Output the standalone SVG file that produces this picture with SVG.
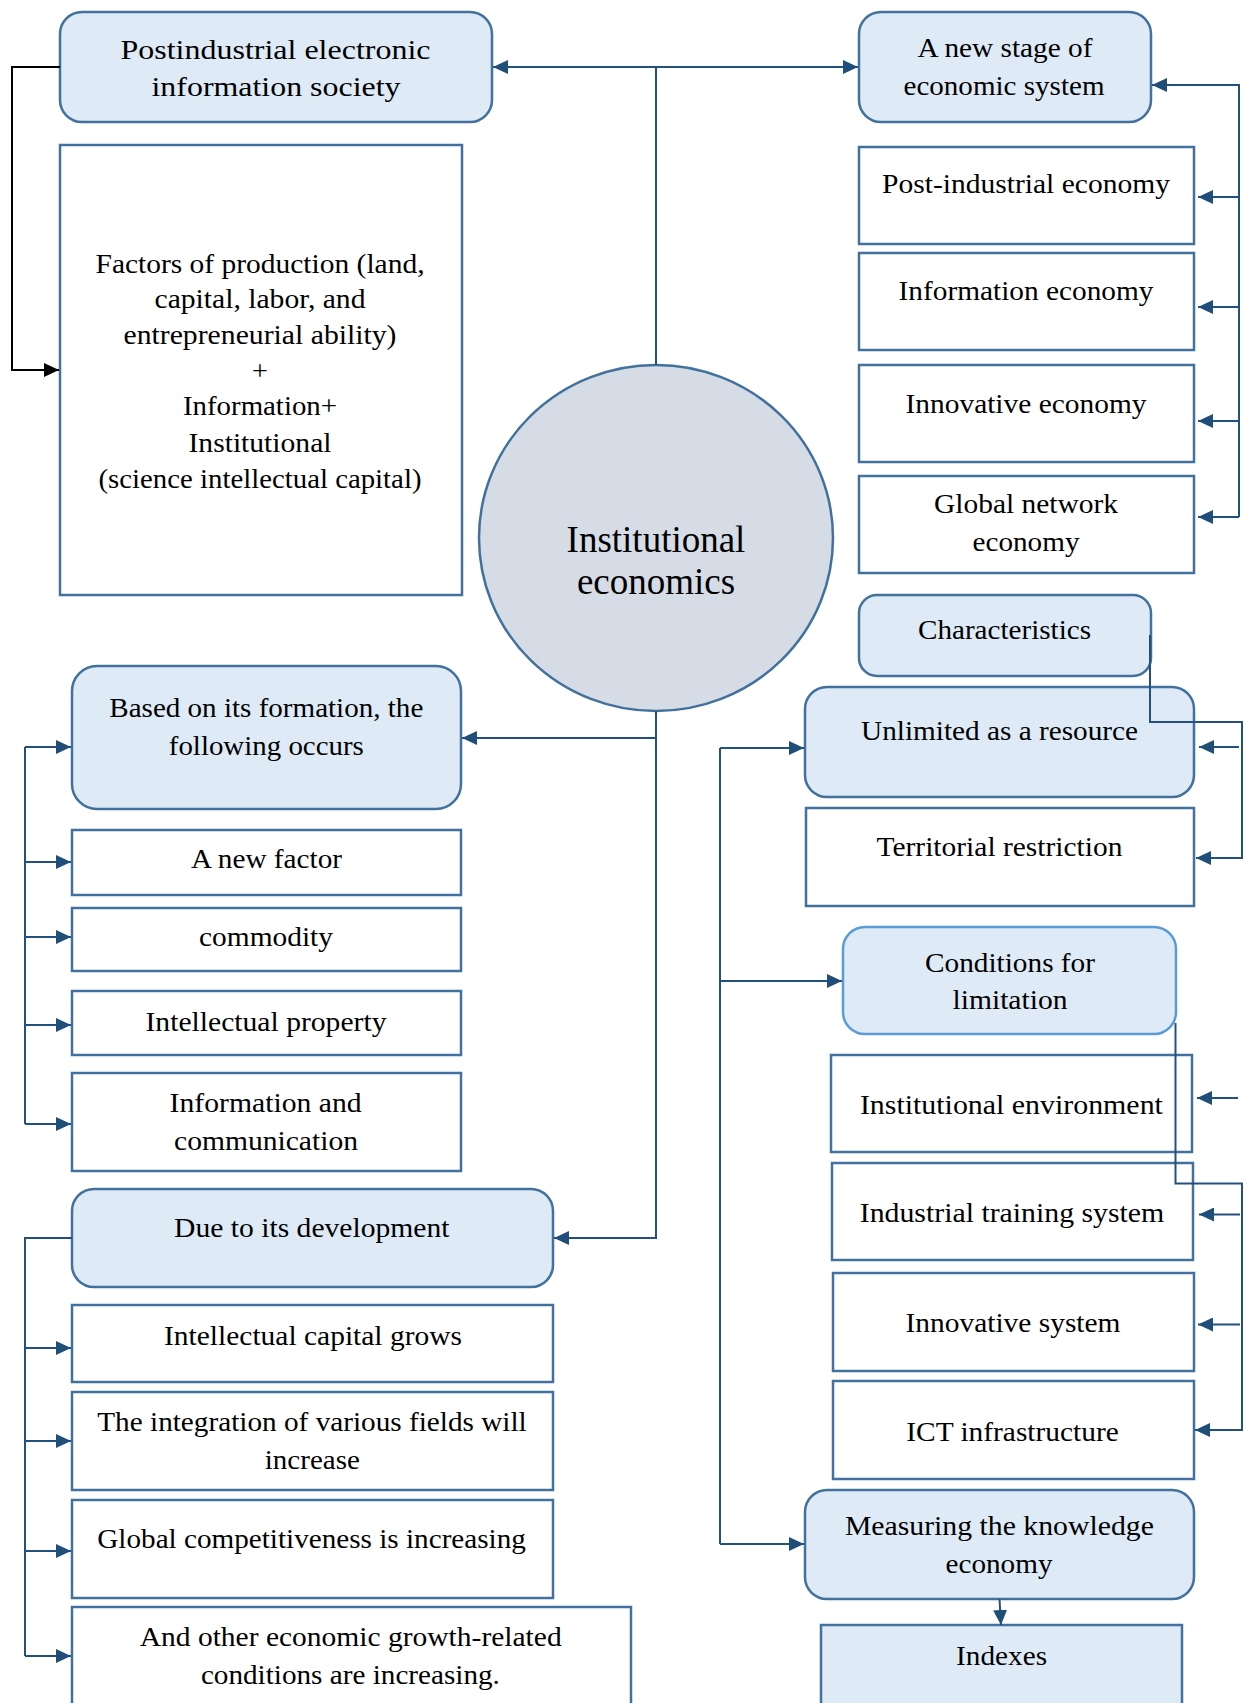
<svg xmlns="http://www.w3.org/2000/svg" width="1248" height="1703" viewBox="0 0 1248 1703">
<style>
.bx{fill:#ffffff;stroke:#41719c;stroke-width:2.5}
.rb{fill:#deeaf6;stroke:#41719c;stroke-width:2.5}
.cl{fill:#deeaf6;stroke:#5b9bd5;stroke-width:2.5}
.ci{fill:#d6dce5;stroke:#41719c;stroke-width:2.5}
text{font-family:"Liberation Serif","Times New Roman",serif;font-size:28px;fill:#000;text-anchor:middle}
.big{font-size:37px}
.cn{fill:none;stroke:#23517f;stroke-width:2}
.bk{fill:none;stroke:#000;stroke-width:2}
</style>
<defs>
<marker id="ar" markerUnits="userSpaceOnUse" markerWidth="15" markerHeight="14" refX="15" refY="7" orient="auto">
<path d="M0,0 L15,7 L0,14 z" fill="#1f4e79"/>
</marker>
<marker id="ak" markerUnits="userSpaceOnUse" markerWidth="15" markerHeight="14" refX="15" refY="7" orient="auto">
<path d="M0,0 L15,7 L0,14 z" fill="#000"/>
</marker>
</defs>

<g id="n-postindustrial"><rect class="rb" x="60" y="12" width="432" height="110" rx="22"/>
<text x="275.5" y="59" textLength="310" lengthAdjust="spacingAndGlyphs">Postindustrial electronic</text>
<text x="276" y="96" textLength="249" lengthAdjust="spacingAndGlyphs">information society</text></g>

<g id="n-factors"><rect class="bx" x="60" y="145" width="402" height="450"/>
<text x="260" y="272.5" textLength="329" lengthAdjust="spacingAndGlyphs">Factors of production (land,</text>
<text x="260" y="308" textLength="211" lengthAdjust="spacingAndGlyphs">capital, labor, and</text>
<text x="260" y="343.7" textLength="273" lengthAdjust="spacingAndGlyphs">entrepreneurial ability)</text>
<text x="260" y="380">+</text>
<text x="260" y="415" textLength="154" lengthAdjust="spacingAndGlyphs">Information+</text>
<text x="260" y="451.6" textLength="143" lengthAdjust="spacingAndGlyphs">Institutional</text>
<text x="260" y="488" textLength="323" lengthAdjust="spacingAndGlyphs">(science intellectual capital)</text></g>

<g id="n-newstage"><rect class="rb" x="859" y="12" width="292" height="110" rx="22"/>
<text x="1005" y="56.6" textLength="175" lengthAdjust="spacingAndGlyphs">A new stage of</text>
<text x="1004" y="95" textLength="201" lengthAdjust="spacingAndGlyphs">economic system</text></g>

<g id="n-postind-economy"><rect class="bx" x="859" y="147" width="335" height="97"/>
<text x="1026" y="193" textLength="288" lengthAdjust="spacingAndGlyphs">Post-industrial economy</text></g>

<g id="n-info-economy"><rect class="bx" x="859" y="253" width="335" height="97"/>
<text x="1026" y="300" textLength="255" lengthAdjust="spacingAndGlyphs">Information economy</text></g>

<g id="n-innov-economy"><rect class="bx" x="859" y="365" width="335" height="97"/>
<text x="1026" y="412.5" textLength="241" lengthAdjust="spacingAndGlyphs">Innovative economy</text></g>

<g id="n-global-economy"><rect class="bx" x="859" y="476" width="335" height="97"/>
<text x="1026" y="513" textLength="184" lengthAdjust="spacingAndGlyphs">Global network</text>
<text x="1026" y="551" textLength="107" lengthAdjust="spacingAndGlyphs">economy</text></g>

<g id="n-institutional"><ellipse class="ci" cx="656" cy="538" rx="177" ry="173"/>
<text class="big" x="656" y="552">Institutional</text>
<text class="big" x="656" y="594">economics</text></g>

<g id="n-characteristics"><rect class="rb" x="859" y="595" width="292" height="81" rx="18"/>
<text x="1004.5" y="638.5" textLength="173" lengthAdjust="spacingAndGlyphs">Characteristics</text></g>

<g id="n-unlimited"><rect class="rb" x="805" y="687" width="389" height="110" rx="22"/>
<text x="999.5" y="740" textLength="277" lengthAdjust="spacingAndGlyphs">Unlimited as a resource</text></g>

<g id="n-territorial"><rect class="bx" x="806" y="808" width="388" height="98"/>
<text x="999.5" y="855.6" textLength="246" lengthAdjust="spacingAndGlyphs">Territorial restriction</text></g>

<g id="n-conditions"><rect class="cl" x="843" y="927" width="333" height="107" rx="22"/>
<text x="1010" y="971.5" textLength="170" lengthAdjust="spacingAndGlyphs">Conditions for</text>
<text x="1010" y="1009" textLength="115" lengthAdjust="spacingAndGlyphs">limitation</text></g>

<g id="n-inst-env"><rect class="bx" x="831" y="1055" width="361" height="97"/>
<text x="1011.4" y="1113.8" textLength="303" lengthAdjust="spacingAndGlyphs">Institutional environment</text></g>

<g id="n-training"><rect class="bx" x="832" y="1163" width="361" height="97"/>
<text x="1012" y="1221.6" textLength="304.5" lengthAdjust="spacingAndGlyphs">Industrial training system</text></g>

<g id="n-innov-system"><rect class="bx" x="833" y="1273" width="361" height="98"/>
<text x="1013" y="1331.7" textLength="215" lengthAdjust="spacingAndGlyphs">Innovative system</text></g>

<g id="n-ict"><rect class="bx" x="833" y="1381" width="361" height="98"/>
<text x="1012.5" y="1441" textLength="212.5" lengthAdjust="spacingAndGlyphs">ICT infrastructure</text></g>

<g id="n-measuring"><rect class="rb" x="805" y="1490" width="389" height="109" rx="22"/>
<text x="999.4" y="1534.5" textLength="309" lengthAdjust="spacingAndGlyphs">Measuring the knowledge</text>
<text x="999" y="1572.6" textLength="107" lengthAdjust="spacingAndGlyphs">economy</text></g>

<g id="n-indexes"><rect class="rb" x="821" y="1625" width="361" height="110"/>
<text x="1001.6" y="1665" textLength="91" lengthAdjust="spacingAndGlyphs">Indexes</text></g>

<g id="n-based"><rect class="rb" x="72" y="666" width="389" height="143" rx="25"/>
<text x="266.3" y="716.7" textLength="314" lengthAdjust="spacingAndGlyphs">Based on its formation, the</text>
<text x="266.3" y="755" textLength="195" lengthAdjust="spacingAndGlyphs">following occurs</text></g>

<g id="n-newfactor"><rect class="bx" x="72" y="830" width="389" height="65"/>
<text x="266.5" y="868" textLength="151" lengthAdjust="spacingAndGlyphs">A new factor</text></g>

<g id="n-commodity"><rect class="bx" x="72" y="908" width="389" height="63"/>
<text x="266" y="946.3" textLength="134" lengthAdjust="spacingAndGlyphs">commodity</text></g>

<g id="n-ip"><rect class="bx" x="72" y="991" width="389" height="64"/>
<text x="266" y="1030.5" textLength="241" lengthAdjust="spacingAndGlyphs">Intellectual property</text></g>

<g id="n-infocomm"><rect class="bx" x="72" y="1073" width="389" height="98"/>
<text x="265.6" y="1111.7" textLength="192" lengthAdjust="spacingAndGlyphs">Information and</text>
<text x="266" y="1150" textLength="184" lengthAdjust="spacingAndGlyphs">communication</text></g>

<g id="n-due"><rect class="rb" x="72" y="1189" width="481" height="98" rx="22"/>
<text x="311.8" y="1237.3" textLength="275.5" lengthAdjust="spacingAndGlyphs">Due to its development</text></g>

<g id="n-capital"><rect class="bx" x="72" y="1305" width="481" height="77"/>
<text x="313" y="1345" textLength="298" lengthAdjust="spacingAndGlyphs">Intellectual capital grows</text></g>

<g id="n-integration"><rect class="bx" x="72" y="1392" width="481" height="98"/>
<text x="312" y="1430.7" textLength="429.5" lengthAdjust="spacingAndGlyphs">The integration of various fields will</text>
<text x="312.3" y="1469.3" textLength="95" lengthAdjust="spacingAndGlyphs">increase</text></g>

<g id="n-competitiveness"><rect class="bx" x="72" y="1500" width="481" height="98"/>
<text x="311.6" y="1547.7" textLength="428.6" lengthAdjust="spacingAndGlyphs">Global competitiveness is increasing</text></g>

<g id="n-other"><rect class="bx" x="72" y="1607" width="559" height="130"/>
<text x="350.7" y="1646" textLength="422" lengthAdjust="spacingAndGlyphs">And other economic growth-related</text>
<text x="350.4" y="1684" textLength="299" lengthAdjust="spacingAndGlyphs">conditions are increasing.</text></g>

<g id="connectors">
<path class="cn" d="M656,365 V67"/>
<path class="cn" d="M656,67 H493" marker-end="url(#ar)"/>
<path class="cn" d="M656,67 H858" marker-end="url(#ar)"/>
<path class="bk" d="M60,67 H12 V370 H59" marker-end="url(#ak)"/>

<path class="cn" d="M1239,517 V85 H1152" marker-end="url(#ar)"/>
<path class="cn" d="M1239,197 H1198" marker-end="url(#ar)"/>
<path class="cn" d="M1239,307 H1198" marker-end="url(#ar)"/>
<path class="cn" d="M1239,421 H1198" marker-end="url(#ar)"/>
<path class="cn" d="M1239,517 H1198" marker-end="url(#ar)"/>

<path class="cn" d="M656,711 V1238 H554" marker-end="url(#ar)"/>
<path class="cn" d="M656,738 H462" marker-end="url(#ar)"/>

<path class="cn" d="M25,747 V1124"/>
<path class="cn" d="M25,747 H71" marker-end="url(#ar)"/>
<path class="cn" d="M25,862 H71" marker-end="url(#ar)"/>
<path class="cn" d="M25,937 H71" marker-end="url(#ar)"/>
<path class="cn" d="M25,1025 H71" marker-end="url(#ar)"/>
<path class="cn" d="M25,1124 H71" marker-end="url(#ar)"/>

<path class="cn" d="M72,1238 H25 V1656"/>
<path class="cn" d="M25,1348 H71" marker-end="url(#ar)"/>
<path class="cn" d="M25,1441 H71" marker-end="url(#ar)"/>
<path class="cn" d="M25,1551 H71" marker-end="url(#ar)"/>
<path class="cn" d="M25,1656 H71" marker-end="url(#ar)"/>

<path class="cn" d="M1150,635 V722 H1242 V858 H1196" marker-end="url(#ar)"/>
<path class="cn" d="M1239,747 H1199" marker-end="url(#ar)"/>

<path class="cn" d="M720,748 V1544"/>
<path class="cn" d="M720,748 H804" marker-end="url(#ar)"/>
<path class="cn" d="M720,981 H842" marker-end="url(#ar)"/>
<path class="cn" d="M720,1544 H804" marker-end="url(#ar)"/>

<path class="cn" d="M1175.5,1023 V1183.5 H1242 V1430 H1195" marker-end="url(#ar)"/>
<path class="cn" d="M1240,1214.5 H1199" marker-end="url(#ar)"/>
<path class="cn" d="M1240,1324.5 H1198" marker-end="url(#ar)"/>
<path class="cn" d="M1238,1098 H1197" marker-end="url(#ar)"/>

<path class="cn" d="M999.5,1599 L1001,1625" marker-end="url(#ar)"/>
</g>
</svg>
